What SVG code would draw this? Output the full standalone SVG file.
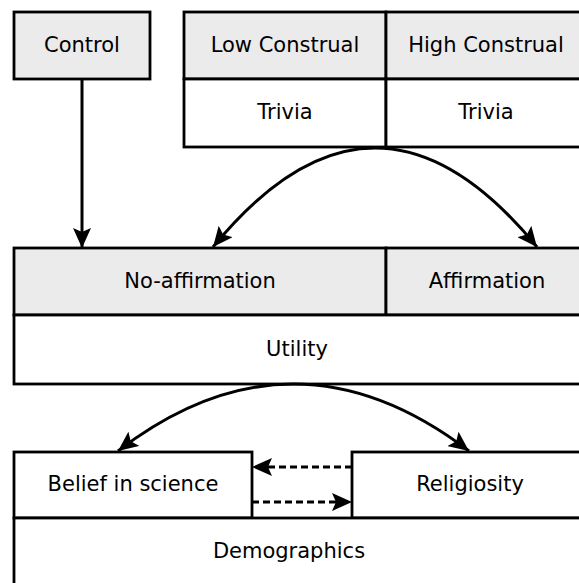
<svg xmlns="http://www.w3.org/2000/svg" width="579" height="583" viewBox="0 0 579 583">
<style>
.g{fill:#ebebeb;stroke:#000;stroke-width:2.8}
.w{fill:#fff;stroke:#000;stroke-width:2.8}
text{font-family:"DejaVu Sans",sans-serif;font-size:21px;fill:#000;text-anchor:middle;dominant-baseline:central}
.c{fill:none;stroke:#000;stroke-width:3}
.d{fill:none;stroke:#000;stroke-width:3;stroke-dasharray:7,4}
</style>
<defs>
<marker id="ah" viewBox="0 0 20 18" refX="20" refY="9" markerWidth="20" markerHeight="18" markerUnits="userSpaceOnUse" orient="auto-start-reverse">
<path d="M0,0 L20,9 L0,18 L4,9 z" fill="#000"/>
</marker>
</defs>
<rect width="579" height="583" fill="#fff"/>
<g id="control"><rect class="g" x="14" y="12" width="136" height="67"/><text x="82" y="45">Control</text></g>
<g id="low"><rect class="g" x="184" y="12" width="202" height="67"/><text x="285" y="45">Low Construal</text></g>
<g id="high"><rect class="g" x="386" y="12" width="210" height="67"/><text x="486" y="45">High Construal</text></g>
<g id="trivia1"><rect class="w" x="184" y="79" width="202" height="68"/><text x="285" y="112">Trivia</text></g>
<g id="trivia2"><rect class="w" x="386" y="79" width="210" height="68"/><text x="486" y="112">Trivia</text></g>
<g id="noaff"><rect class="g" x="14" y="248" width="372" height="67"/><text x="200" y="281">No-affirmation</text></g>
<g id="aff"><rect class="g" x="386" y="248" width="210" height="67"/><text x="487" y="281">Affirmation</text></g>
<g id="utility"><rect class="w" x="14" y="315" width="582" height="69"/><text x="297" y="349">Utility</text></g>
<g id="belief"><rect class="w" x="14" y="452" width="238" height="66"/><text x="133" y="484">Belief in science</text></g>
<g id="religiosity"><rect class="w" x="352" y="452" width="244" height="66"/><text x="470" y="484">Religiosity</text></g>
<g id="demographics"><rect class="w" x="14" y="518" width="582" height="80"/><text x="289" y="551">Demographics</text></g>
<g id="connectors">
<path class="c" d="M82,79 L82,248" marker-end="url(#ah)"/>
<path class="c" d="M213,247 Q375,49 537,247" marker-start="url(#ah)" marker-end="url(#ah)"/>
<path class="c" d="M118,451 Q293,317 469,451" marker-start="url(#ah)" marker-end="url(#ah)"/>
<path class="d" d="M352,467 L252,467" marker-end="url(#ah)"/>
<path class="d" d="M252,502 L352,502" marker-end="url(#ah)"/>
</g>
</svg>
